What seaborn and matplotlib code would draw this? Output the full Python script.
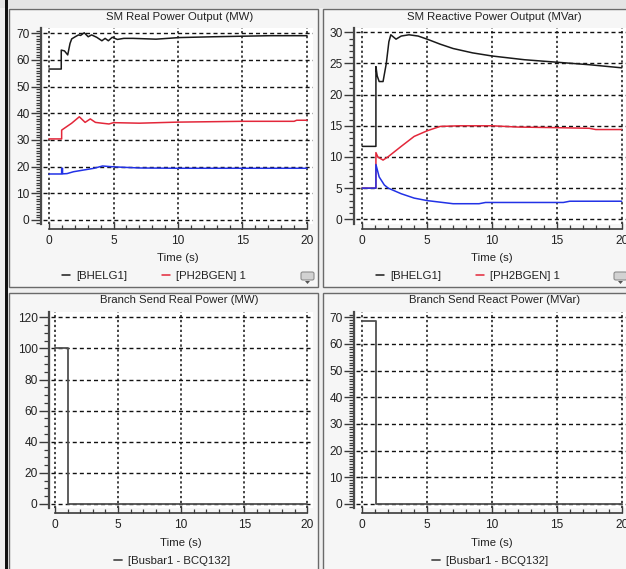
import matplotlib
matplotlib.use("Agg")
import matplotlib.pyplot as plt
from matplotlib.patches import Rectangle, FancyBboxPatch, Polygon
from matplotlib.ticker import MultipleLocator
import seaborn as sns

# ---------------- data ----------------
# SM Real Power Output (MW)
tl_black_t = [0, 0.95, 0.95, 1.2, 1.45, 1.63, 1.76, 2.03, 2.29, 2.45, 2.73, 3.04, 3.3, 3.7, 4.1,
              4.35, 4.6, 4.9, 5.3, 5.8, 6.5, 8.3, 10.1, 12.7, 17.1, 20]
tl_black_v = [56.6, 56.6, 63.7, 63.4, 61.9, 66.2, 67.9, 68.7, 69.4, 69.2, 70.2, 68.7, 69.4, 68.5, 67.2,
              68.1, 67.2, 68.5, 67.7, 68.1, 68.1, 67.8, 68.4, 68.7, 69.1, 69.1]
tl_red_t = [0, 0.98, 0.98, 1.37, 1.76, 2.35, 2.8, 3.2, 3.6, 4.1, 4.65, 5.0, 7.0, 10, 15, 19, 19.2, 20]
tl_red_v = [30.4, 30.4, 33.7, 35.0, 36.3, 38.7, 36.6, 37.9, 36.6, 36.3, 36.0, 36.5, 36.3, 36.7, 37.0, 37.0, 37.4, 37.4]
tl_blue_t = [0, 0.98, 0.98, 1.05, 1.05, 1.4, 1.9, 2.7, 3.5, 4.15, 4.8, 5.8, 7.1, 10, 20]
tl_blue_v = [17.25, 17.25, 19.4, 19.4, 17.3, 17.4, 18.1, 18.75, 19.4, 20.25, 20.0, 19.75, 19.5, 19.4, 19.4]

# SM Reactive Power Output (MVar)
tr_black_t = [0, 1.05, 1.05, 1.15, 1.3, 1.6, 1.85, 2.05, 2.2, 2.6, 3.0, 3.6, 4.3, 5.0, 6.0, 7.0,
              8.5, 10, 12.5, 15, 17.5, 20]
tr_black_v = [11.7, 11.7, 24.5, 23.0, 22.1, 22.1, 25.0, 28.5, 29.6, 28.9, 29.4, 29.6, 29.4, 28.9, 28.1, 27.4,
              26.7, 26.2, 25.6, 25.2, 24.8, 24.3]
tr_red_t = [0, 1.05, 1.05, 1.2, 1.6, 2.0, 3.0, 4.0, 5.0, 6.0, 7.5, 10, 12, 15, 17.5, 18, 20]
tr_red_v = [5.0, 5.0, 10.7, 10.0, 9.5, 10.05, 11.7, 13.3, 14.2, 14.9, 15.0, 15.0, 14.8, 14.7, 14.6, 14.4, 14.4]
tr_blue_t = [0, 1.05, 1.05, 1.3, 1.7, 2.0, 3.0, 4.0, 5.0, 6.0, 7.0, 9.0, 9.5, 15.5, 16, 20]
tr_blue_v = [5.0, 5.0, 8.8, 6.8, 5.5, 5.0, 4.1, 3.4, 3.0, 2.75, 2.5, 2.5, 2.7, 2.7, 2.9, 2.9]

# Branch Send Real / React Power
bl_t = [0, 1.06, 1.06, 20]
bl_v = [100, 100, 0, 0]
br_t = [0, 1.05, 1.05, 20]
br_v = [68.5, 68.5, 0, 0]

titles = ["SM Real Power Output (MW)", "SM Reactive Power Output (MVar)",
          "Branch Send Real Power (MW)", "Branch Send React Power (MVar)"]
gen_labels = ["[BHELG1]", "[PH2BGEN] 1"]
branch_label = "[Busbar1 - BCQ132]"
xlabel = "Time (s)"

# ---------------- style ----------------
sns.set_style("white")
plt.rcParams['font.family'] = ['Liberation Sans', 'DejaVu Sans']

W, H = 626, 569
fig = plt.figure(figsize=(W / 100, H / 100), dpi=100, facecolor='#efefef')


def fx(x):
    return x / W


def fy(y):
    return 1 - y / H


def rect(x0, y0, x1, y1, fc, ec='none', lw=0.0, z=0):
    fig.patches.append(Rectangle((fx(x0), fy(y1)), (x1 - x0) / W, (y1 - y0) / H,
                                 transform=fig.transFigure, facecolor=fc, edgecolor=ec,
                                 linewidth=lw, zorder=z))


# frame decorations
rect(0, 0, W, 7.5, '#e4e4e4')
rect(4.5, 0, 7.8, H, '#111111', z=2)
panels = [(8.5, 9, 318, 287), (323, 9, 650, 287), (8.5, 293, 318, 600), (323, 293, 650, 600)]
for (a, b, c, d) in panels:
    rect(a, b, c, d, '#f6f6f6', ec='#6a6a6a', lw=1.0, z=1)


def icon(x, y):
    fig.patches.append(FancyBboxPatch((fx(x), fy(y + 9)), 13 / W, 8 / H,
                                      boxstyle="round,pad=0.0,rounding_size=0.003",
                                      transform=fig.transFigure, facecolor='#d2d2d2',
                                      edgecolor='#8c8c8c', linewidth=0.8, zorder=3))
    fig.patches.append(Polygon([(fx(x + 4), fy(y + 10)), (fx(x + 9), fy(y + 10)), (fx(x + 6.5), fy(y + 13))],
                               closed=True, transform=fig.transFigure, facecolor='#555555',
                               edgecolor='none', zorder=3))


icon(301, 271)
icon(614, 271)

FS_TICK = 8.6
FS_TXT = 8.2
grid_h = dict(color='#111111', linestyle=(0, (2.9, 2.2)), linewidth=1.0)
grid_v = dict(color='#111111', linestyle=(0, (1.5, 1.7)), linewidth=1.1)


def make_axes(white, x0px, x20px, v0px, vtop_px, vtop, ystep, yminor):
    left, top, right, bottom = white
    sx = (x20px - x0px) / 20.0
    sy = (v0px - vtop_px) / vtop
    ax = fig.add_axes([fx(left), fy(bottom), (right - left) / W, (bottom - top) / H])
    ax.set_zorder(5)
    ax.set_facecolor('white')
    ax.set_xlim((left - x0px) / sx, (right - x0px) / sx)
    ax.set_ylim((v0px - bottom) / sy, (v0px - top) / sy)
    ax.xaxis.set_major_locator(MultipleLocator(5))
    ax.xaxis.set_minor_locator(MultipleLocator(1))
    ax.yaxis.set_major_locator(MultipleLocator(ystep))
    ax.yaxis.set_minor_locator(MultipleLocator(yminor))
    for s in ['top', 'right']:
        ax.spines[s].set_visible(False)
    ax.spines['left'].set_position(('outward', 1.5))
    ax.spines['left'].set_color('#4a4a4a')
    ax.spines['left'].set_linewidth(1.6)
    ax.spines['bottom'].set_position(('outward', (229 - 224) * 0.72))
    ax.spines['bottom'].set_bounds(0, 20)
    ax.spines['bottom'].set_color('#3a3a3a')
    ax.spines['bottom'].set_linewidth(1.2)
    ax.tick_params(which='both', left=True, bottom=True, right=False, top=False)
    ax.tick_params(axis='y', which='major', direction='out', length=7.2, width=1.0,
                   color='#3a3a3a', pad=1.0, labelsize=FS_TICK, labelcolor='#222222')
    ax.tick_params(axis='y', which='minor', direction='out', length=3.6, width=0.9, color='#3a3a3a')
    ax.tick_params(axis='x', which='major', direction='in', length=5.0, width=1.0,
                   color='#3a3a3a', pad=4.5, labelsize=FS_TICK, labelcolor='#222222')
    ax.tick_params(axis='x', which='minor', direction='in', length=2.9, width=0.9, color='#3a3a3a')
    ax.grid(False)
    ax.grid(True, axis='y', which='major', **grid_h)
    ax.grid(True, axis='x', which='major', **grid_v)
    ax.set_axisbelow(True)
    ax.set_xlabel('')
    ax.set_ylabel('')
    return ax


LW = 1.1

# top-left
ax1 = make_axes((43, 28, 313, 224), 49, 307, 220, 33.3, 70, 10, 1)
sns.lineplot(x=tl_black_t, y=tl_black_v, ax=ax1, color='#1a1a1a', lw=LW, estimator=None, sort=False, label=gen_labels[0])
sns.lineplot(x=tl_red_t, y=tl_red_v, ax=ax1, color='#e3273a', lw=LW, estimator=None, sort=False, label=gen_labels[1])
sns.lineplot(x=tl_blue_t, y=tl_blue_v, ax=ax1, color='#2232e6', lw=LW, estimator=None, sort=False)

# top-right
ax2 = make_axes((356, 28, 627, 224), 362.3, 621.7, 219.3, 32.3, 30, 5, 1)
sns.lineplot(x=tr_black_t, y=tr_black_v, ax=ax2, color='#1a1a1a', lw=LW, estimator=None, sort=False, label=gen_labels[0])
sns.lineplot(x=tr_red_t, y=tr_red_v, ax=ax2, color='#e3273a', lw=LW, estimator=None, sort=False, label=gen_labels[1])
sns.lineplot(x=tr_blue_t, y=tr_blue_v, ax=ax2, color='#2232e6', lw=LW, estimator=None, sort=False)

# bottom-left
ax3 = make_axes((51, 312, 313, 508), 55, 307.3, 504, 317.3, 120, 20, 5)
sns.lineplot(x=bl_t, y=bl_v, ax=ax3, color='#505050', lw=1.3, estimator=None, sort=False, label=branch_label)

# bottom-right
ax4 = make_axes((356, 312, 627, 508), 362.3, 621.7, 504, 317.3, 70, 10, 1)
sns.lineplot(x=br_t, y=br_v, ax=ax4, color='#505050', lw=1.3, estimator=None, sort=False, label=branch_label)

axes = [ax1, ax2, ax3, ax4]
title_pos = [(180, 17), (494, 17), (179, 300), (495, 300)]
xlab_pos = [(178, 258), (492, 258), (181, 543), (492, 543)]
leg_pos = [(154, 276), (468, 276), (172, 561), (490, 561)]

for ax, t, tp, xp, lp in zip(axes, titles, title_pos, xlab_pos, leg_pos):
    fig.text(fx(tp[0]), fy(tp[1]), t, ha='center', va='center', fontsize=FS_TXT, color='#222222')
    fig.text(fx(xp[0]), fy(xp[1]), xlabel, ha='center', va='center', fontsize=FS_TXT, color='#222222')
    handles, labels = ax.get_legend_handles_labels()
    leg = ax.legend(handles, labels, loc='center', bbox_to_anchor=(fx(lp[0]), fy(lp[1])),
                    bbox_transform=fig.transFigure, ncol=len(handles), frameon=False,
                    handlelength=0.7, handletextpad=0.6, columnspacing=3.0, fontsize=FS_TXT,
                    borderpad=0, borderaxespad=0)
    for txt in leg.get_texts():
        txt.set_color('#222222')

fig.savefig("out.png", dpi=100, facecolor=fig.get_facecolor())
